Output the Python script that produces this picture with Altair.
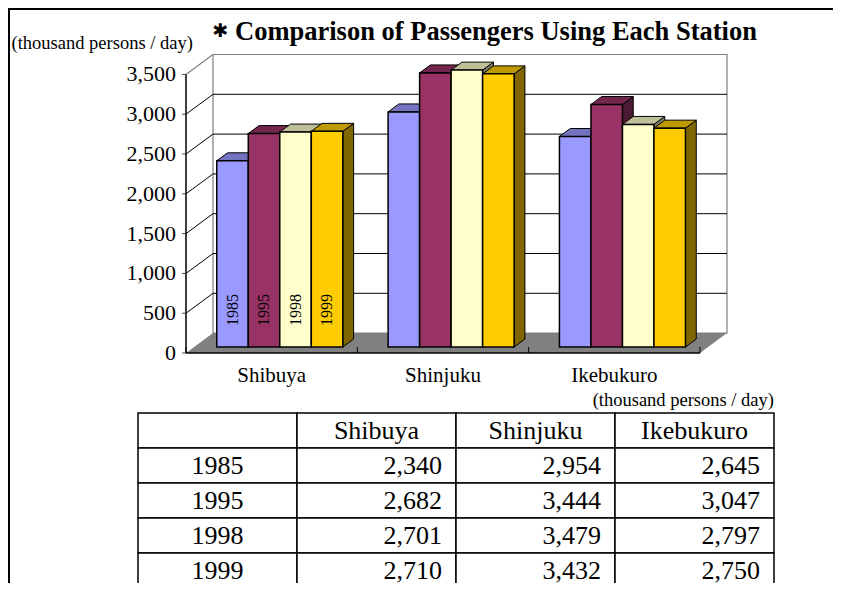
import altair as alt
import pandas as pd

# ---------------- data ----------------
stations = ["Shibuya", "Shinjuku", "Ikebukuro"]
years = ["1985", "1995", "1998", "1999"]
v1985 = [2340, 2954, 2645]
v1995 = [2682, 3444, 3047]
v1998 = [2701, 3479, 2797]
v1999 = [2710, 3432, 2750]
y_ticks = [0, 500, 1000, 1500, 2000, 2500, 3000, 3500]
title_text = "Comparison of Passengers Using Each Station"
title_mark = "✱"
unit_text = "(thousand persons / day)"

series = {"1985": v1985, "1995": v1995, "1998": v1998, "1999": v1999}

# ---------------- styles / layout ----------------
FONT = "Liberation Serif, Times New Roman, serif"
FRONT = ["#9999FF", "#993366", "#FFFFCC", "#FFCC00"]
TOP = ["#7373BF", "#73264D", "#BFBF99", "#BF9900"]
SIDE = ["#4D4D80", "#4D1A33", "#808066", "#806600"]
WALL_GRAY = "#808080"

X_RANGE = [178, 692]      # pixel span of the three category slots (front plane)
Y_RANGE = [345, 66.4]     # pixel span of 0..3500 on the front plane
DX, DV = 0.1576, 250      # full depth of the 3-D box (slot units, value units)
D0, D1 = 0.3, 0.7         # bar depth (fractions of the box depth)
GROUP_MARGIN = 0.1323
BAR_W = 0.1839
N = len(stations)
TOPV = y_ticks[-1]

xs = alt.Scale(domain=[0, N], range=X_RANGE, nice=False, zero=False)
ys = alt.Scale(domain=[0, TOPV], range=Y_RANGE, nice=False, zero=False)

# ---------------- derived geometry ----------------
front_rows, top_rows, side_rows = [], [], []
ddx, ddv = (D1 - D0) * DX, (D1 - D0) * DV
base = D0 * DV
for s, st in enumerate(stations):
    for j, yr in enumerate(years):
        v = series[yr][s]
        L = s + GROUP_MARGIN + j * BAR_W + D0 * DX
        R = L + BAR_W
        T = v + base
        bid = f"{st}-{yr}"
        front_rows.append(dict(bar=bid, year=yr, station=st, x=L, x2=R, y=base, y2=T,
                               xc=(L + R) / 2, first=(s == 0)))
        for px, py, py2 in [(L, T, T), (L + ddx, T, T + ddv), (R, T, T + ddv), (R + ddx, T + ddv, T + ddv)]:
            top_rows.append(dict(bar=bid, year=yr, x=px, y=py, y2=py2))
        for px, py, py2 in [(R, base, T), (R + ddx, base + ddv, T + ddv)]:
            side_rows.append(dict(bar=bid, year=yr, x=px, y=py, y2=py2))

front_df = pd.DataFrame(front_rows)
top_df = pd.DataFrame(top_rows)
side_df = pd.DataFrame(side_rows)

wall_df = pd.DataFrame([dict(x=DX, x2=N + DX, y=DV, y2=TOPV + DV)])
grid_df = pd.DataFrame([dict(x=DX, x2=N + DX, y=v + DV) for v in y_ticks[1:-1]])
diag_df = pd.DataFrame([dict(x=0, x2=DX, y=v, y2=v + DV) for v in y_ticks[1:-1]])
diag_top_df = pd.DataFrame([dict(x=0, x2=DX, y=TOPV, y2=TOPV + DV)])
floor_df = pd.DataFrame([dict(x=0, y=0, y2=0), dict(x=DX, y=0, y2=DV),
                         dict(x=N, y=0, y2=DV), dict(x=N + DX, y=DV, y2=DV)])
edge_df = pd.DataFrame([dict(x=0, x2=N, y=0)])
cat_tick_df = pd.DataFrame([dict(x=k, y=0, y2=75) for k in range(N + 1)])
cat_lab_df = pd.DataFrame([dict(x=k + 0.5, y=-290, t=st) for k, st in enumerate(stations)])
axis_df = pd.DataFrame([dict(x=0, y=v, t=f"{v:,}") for v in y_ticks])
axis_line_df = pd.DataFrame([dict(x=0, y=0, y2=TOPV)])

X = lambda f="x": alt.X(f"{f}:Q", scale=xs, axis=None)
Y = lambda f="y": alt.Y(f"{f}:Q", scale=ys, axis=None)

wall = alt.Chart(wall_df).mark_rect(fill="white", stroke=WALL_GRAY, strokeWidth=1.2).encode(
    x=X(), x2="x2:Q", y=Y(), y2="y2:Q")
grid = alt.Chart(grid_df).mark_rule(color="black", strokeWidth=1).encode(
    x=X(), x2="x2:Q", y=Y())
diag = alt.Chart(diag_df).mark_rule(color="black", strokeWidth=1).encode(
    x=X(), x2="x2:Q", y=Y(), y2="y2:Q")
diag_top = alt.Chart(diag_top_df).mark_rule(color=WALL_GRAY, strokeWidth=1.2).encode(
    x=X(), x2="x2:Q", y=Y(), y2="y2:Q")
floor = alt.Chart(floor_df).mark_area(color=WALL_GRAY, opacity=1).encode(
    x=X(), y=Y(), y2="y2:Q")
edge = alt.Chart(edge_df).mark_rule(color="black", strokeWidth=1.5).encode(
    x=X(), x2="x2:Q", y=Y())
cat_ticks = alt.Chart(cat_tick_df).mark_rule(color="black", strokeWidth=1).encode(
    x=X(), y=Y(), y2="y2:Q")
axis_line = alt.Chart(axis_line_df).mark_rule(color="black", strokeWidth=1.5).encode(
    x=X(), y=Y(), y2="y2:Q")
axis_ticks = alt.Chart(axis_df).mark_tick(orient="horizontal", color="black", size=4,
                                          thickness=1, xOffset=-2).encode(x=X(), y=Y())
axis_labels = alt.Chart(axis_df).mark_text(font=FONT, fontSize=22, align="right",
                                           baseline="middle", dx=-10, color="black").encode(
    x=X(), y=Y(), text="t:N")

sides = alt.Chart(side_df).mark_area(stroke="black", strokeWidth=1, opacity=1).encode(
    x=X(), y=Y(), y2="y2:Q", detail="bar:N",
    fill=alt.Fill("year:N", scale=alt.Scale(domain=years, range=SIDE), legend=None))
tops = alt.Chart(top_df).mark_area(stroke="black", strokeWidth=1, opacity=1).encode(
    x=X(), y=Y(), y2="y2:Q", detail="bar:N",
    fill=alt.Fill("year:N", scale=alt.Scale(domain=years, range=TOP), legend=None))
fronts = alt.Chart(front_df).mark_rect(stroke="black", strokeWidth=1.5).encode(
    x=X(), x2="x2:Q", y=Y(), y2="y2:Q",
    fill=alt.Fill("year:N", scale=alt.Scale(domain=years, range=FRONT), legend=None))
year_labels = alt.Chart(front_df).transform_filter("datum.first").transform_calculate(
    y_lab="540").mark_text(
    font=FONT, fontSize=16, angle=270, align="center", baseline="middle", color="black").encode(
    x=X("xc"), y=alt.Y("y_lab:Q", scale=ys, axis=None), text="year:N")
cat_labels = alt.Chart(cat_lab_df).mark_text(
    font=FONT, fontSize=21, align="center", baseline="middle", color="black").encode(
    x=X(), y=Y(), text="t:N")

bar_group = alt.layer(wall, grid, diag, diag_top, floor, edge, cat_ticks,
                      sides, tops, fronts, axis_line, axis_ticks, axis_labels,
                      year_labels, cat_labels).resolve_scale(fill="independent")

# ---------------- table ----------------
col_keys = ["_year"] + stations
row_keys = ["header"] + years
cell_df = pd.DataFrame([dict(col=c, row=r) for r in row_keys for c in col_keys])
head_df = pd.DataFrame([dict(col=st, row="header", t=st) for st in stations])
yr_df = pd.DataFrame([dict(col="_year", row=yr, t=yr) for yr in years])
num_df = pd.DataFrame([dict(col=st, row=yr, t=f"{series[yr][s]:,}")
                       for yr in years for s, st in enumerate(stations)])

tx = alt.Scale(domain=col_keys, range=[130, 766], paddingInner=0, paddingOuter=0)
ty = alt.Scale(domain=row_keys, range=[405, 580], paddingInner=0, paddingOuter=0)
TX = lambda **kw: alt.X("col:N", scale=tx, axis=None, **kw)
TY = lambda: alt.Y("row:N", scale=ty, axis=None)

cells = alt.Chart(cell_df).mark_rect(fill="white", stroke="black", strokeWidth=1.5).encode(
    x=TX(), y=TY())
heads = alt.Chart(head_df).mark_text(font=FONT, fontSize=26, align="center", baseline="middle",
                                     color="black").encode(x=TX(), y=TY(), text="t:N")
yrs = alt.Chart(yr_df).mark_text(font=FONT, fontSize=26, align="center", baseline="middle",
                                 color="black").encode(x=TX(), y=TY(), text="t:N")
nums = alt.Chart(num_df).mark_text(font=FONT, fontSize=26, align="right", baseline="middle",
                                   dx=-14, color="black").encode(
    x=TX(bandPosition=1), y=TY(), text="t:N")
table_group = alt.layer(cells, heads, yrs, nums)

# ---------------- annotations ----------------
ann = pd.DataFrame([dict(t=title_text, m=title_mark)])
title = alt.Chart(ann).mark_text(font=FONT, fontSize=26.5, fontWeight=700, align="left",
                                 baseline="alphabetic", color="black").encode(
    text="t:N", x=alt.value(227), y=alt.value(31.5))
star = alt.Chart(ann).mark_text(font="DejaVu Sans", fontSize=19, align="center",
                                baseline="middle", color="black").encode(
    text="m:N", x=alt.value(212.5), y=alt.value(22.5))
unit1 = alt.Chart(pd.DataFrame([dict(t=unit_text)])).mark_text(
    font=FONT, fontSize=18.5, align="left", baseline="alphabetic", color="black").encode(
    text="t:N", x=alt.value(3.5), y=alt.value(41))
unit2 = alt.Chart(pd.DataFrame([dict(t=unit_text)])).mark_text(
    font=FONT, fontSize=18.5, align="right", baseline="alphabetic", color="black").encode(
    text="t:N", x=alt.value(766), y=alt.value(398))
frame_l = alt.Chart(ann).mark_rule(color="black", strokeWidth=2).encode(
    x=alt.value(1), y=alt.value(0), y2=alt.value(575))
frame_t = alt.Chart(ann).mark_rule(color="black", strokeWidth=2).encode(
    x=alt.value(0), x2=alt.value(825), y=alt.value(1))

chart = alt.layer(bar_group, table_group, title, star, unit1, unit2, frame_l, frame_t).resolve_scale(
    x="independent", y="independent"
).properties(
    width=825, height=575, padding=0, autosize="none", background="white"
).configure_view(stroke=None)

chart.save("out.html", embed_options={"renderer": "svg", "actions": False})
